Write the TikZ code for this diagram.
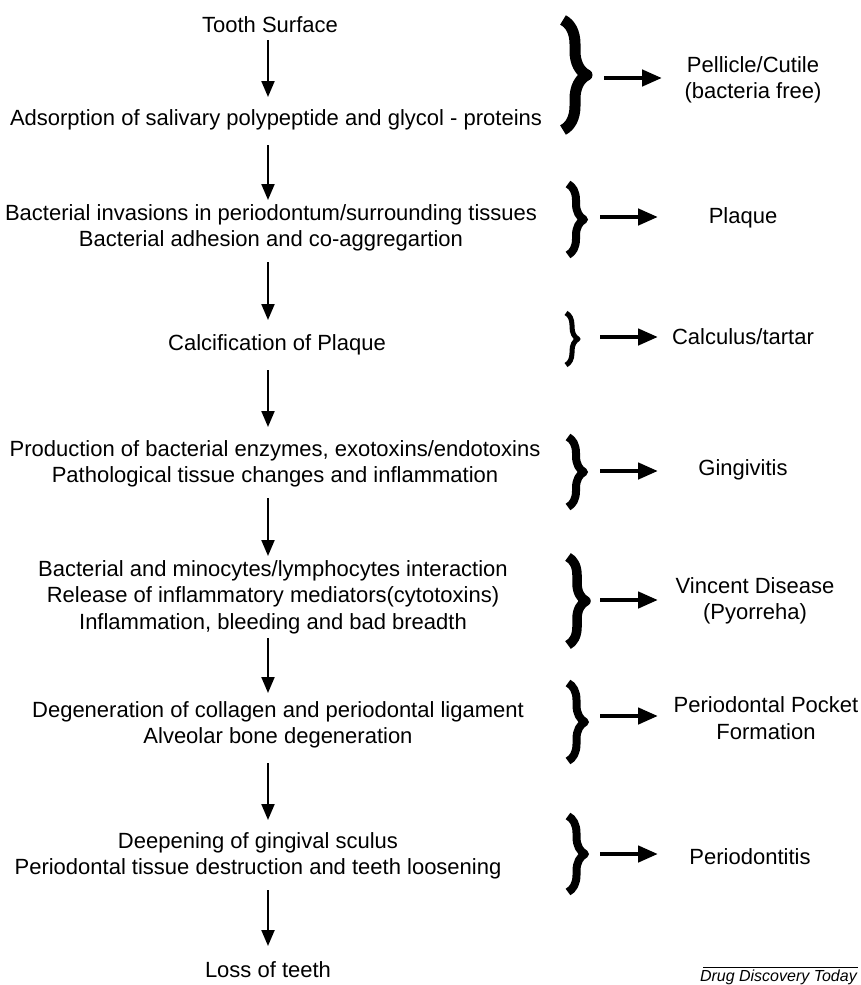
\documentclass[tikz,border=0pt]{standalone}
\usepackage{fontspec}
\setmainfont{Liberation Sans}
\usetikzlibrary{arrows.meta,decorations.pathreplacing}
\begin{document}
\begin{tikzpicture}[x=1pt,y=-1pt,
  txt/.style={font=\fontsize{22}{26.5}\selectfont, align=center, inner sep=0pt, anchor=center},
  flow/.style={line width=2.2pt, -{Triangle[width=13pt,length=16pt]}},
  side/.style={line width=4.5pt, -{Triangle[width=16pt,length=20pt]}},
  brc/.style={decorate, decoration={brace, amplitude=#1, aspect=0.5}, line width=8pt, line join=round},
]
\useasboundingbox (0,0) rectangle (860,985);
% left column
\node[txt] (s1) at (270,25) {Tooth Surface};
\node[txt] (s2) at (276,120) {Adsorption of salivary polypeptide and glycol - proteins};
\node[txt] (s3) at (271,228) {Bacterial invasions in periodontum/surrounding tissues\\Bacterial adhesion and co-aggregartion};
\node[txt] (s4) at (277,345) {Calcification of Plaque};
\node[txt] (s5) at (275,464) {Production of bacterial enzymes, exotoxins/endotoxins\\Pathological tissue changes and inflammation};
\node[txt] (s6) at (273,597) {Bacterial and minocytes/lymphocytes interaction\\Release of inflammatory mediators(cytotoxins)\\Inflammation, bleeding and bad breadth};
\node[txt] (s7) at (278,725) {Degeneration of collagen and periodontal ligament\\Alveolar bone degeneration};
\node[txt] (s8) at (258,856) {Deepening of gingival sculus\\Periodontal tissue destruction and teeth loosening};
\node[txt] (s9) at (268,970) {Loss of teeth};
% vertical arrows
\coordinate (a1) at (268,40);  \coordinate (b1) at (268,97);
\coordinate (a2) at (268,145); \coordinate (b2) at (268,200);
\coordinate (a3) at (268,262); \coordinate (b3) at (268,320);
\coordinate (a4) at (268,370); \coordinate (b4) at (268,427);
\coordinate (a5) at (268,498); \coordinate (b5) at (268,556);
\coordinate (a6) at (268,638); \coordinate (b6) at (268,693);
\coordinate (a7) at (268,763); \coordinate (b7) at (268,820);
\coordinate (a8) at (268,890); \coordinate (b8) at (268,946);
\foreach \i in {1,...,8} \draw[flow] (a\i) -- (b\i);
% right column
\node[txt] (r1) at (753,80) {Pellicle/Cutile\\(bacteria free)};
\node[txt] (r2) at (743,218) {Plaque};
\node[txt] (r3) at (743,337) {Calculus/tartar};
\node[txt] (r4) at (743,470) {Gingivitis};
\node[txt] (r5) at (755,601) {Vincent Disease\\(Pyorreha)};
\node[txt] (r6) at (766,718) {Periodontal Pocket\\Formation};
\node[txt] (r7) at (750,857) {Periodontitis};
% braces
\draw[brc=24pt, line width=11pt] (563,20) -- (563,130);
\draw[brc=16pt] (568,184) -- (568,255);
\draw[brc=12pt, line width=5pt] (566,313) -- (566,365);
\draw[brc=16pt] (568,437) -- (568,507);
\draw[brc=18pt, line width=9.5pt] (568,557) -- (568,645);
\draw[brc=17pt] (568,683) -- (568,761);
\draw[brc=17pt] (568,816) -- (568,892);
% side arrows
\coordinate (c1) at (604,78);  \coordinate (d1) at (662,78);
\coordinate (c2) at (600,217); \coordinate (d2) at (658,217);
\coordinate (c3) at (600,337); \coordinate (d3) at (658,337);
\coordinate (c4) at (600,471); \coordinate (d4) at (658,471);
\coordinate (c5) at (600,600); \coordinate (d5) at (658,600);
\coordinate (c6) at (600,716); \coordinate (d6) at (658,716);
\coordinate (c7) at (600,854); \coordinate (d7) at (658,854);
\foreach \i in {1,...,7} \draw[side] (c\i) -- (d\i);
% source
\coordinate (L1) at (703,967); \coordinate (L2) at (858,967);
\draw[line width=0.6pt] (L1) -- (L2);
\node[font=\fontsize{16}{18}\selectfont\itshape, inner sep=0pt, anchor=north east] (src) at (857,970) {Drug Discovery Today};
\end{tikzpicture}
\end{document}
